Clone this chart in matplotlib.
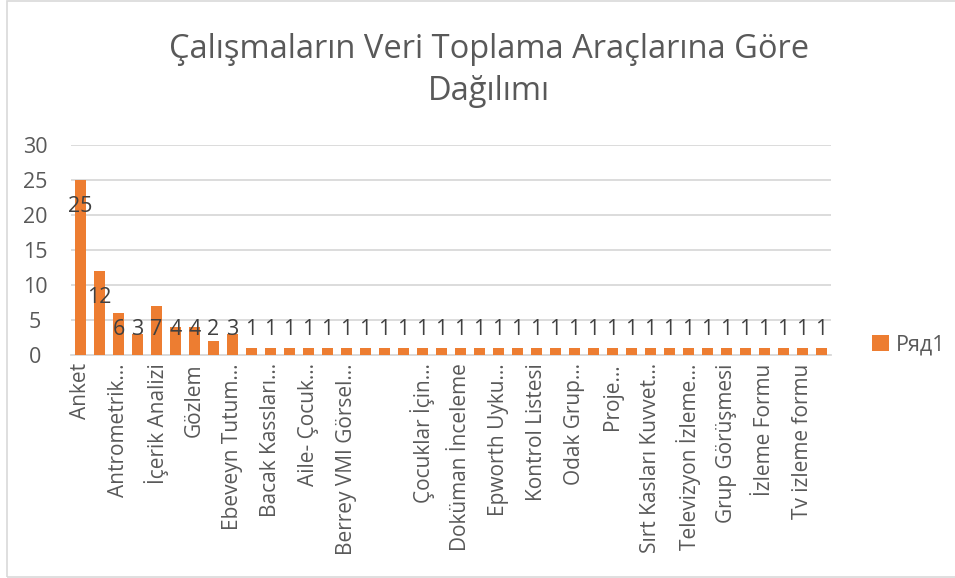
import matplotlib
matplotlib.use("Agg")
import matplotlib.pyplot as plt
from matplotlib.patches import Rectangle

plt.rcParams['font.family'] = ['Open Sans', 'DejaVu Sans']

title = "Çalışmaların Veri Toplama Araçlarına Göre\nDağılımı"
series_name = "Ряд1"

# 40 categories; only every other label is visible in the reference
categories = [
    "Anket", "", "Antrometrik…", "", "İçerik Analizi", "", "Gözlem", "",
    "Ebeveyn Tutum…", "", "Bacak Kassları…", "", "Aile- Çocuk…", "",
    "Berrey VMI Görsel…", "", "", "", "Çocuklar İçin…", "",
    "Doküman İnceleme", "", "Epworth Uyku…", "", "Kontrol Listesi", "",
    "Odak Grup…", "", "Proje…", "", "Sırt Kasları Kuvvet…", "",
    "Televizyon İzleme…", "", "Grup Görüşmesi", "", "İzleme Formu", "",
    "Tv izleme formu", "",
]
values = [25, 12, 6, 3, 7, 4, 4, 2, 3] + [1] * 31

y_ticks = [0, 5, 10, 15, 20, 25, 30]

ORANGE = "#ED7D31"
TEXT = "#595959"
GRID = "#D9D9D9"
FS = 15.5

W, H = 955, 578
fig = plt.figure(figsize=(W / 100, H / 100), dpi=100)
fig.patch.set_facecolor("white")

# outer chart border
fig.add_artist(Rectangle((7 / W, 1 / H), 1.0, 1 - 2 / H, transform=fig.transFigure,
                         fill=False, edgecolor="#D9D9D9", linewidth=1.2))

ax = fig.add_axes([71 / W, 1 - 355 / H, (831 - 71) / W, (355 - 145) / H])
x = list(range(len(values)))
bars = ax.bar(x, values, width=0.55, color=ORANGE, label=series_name, zorder=3)

ax.set_xlim(-0.5, len(values) - 0.5)
ax.set_ylim(0, 30)
ax.set_yticks(y_ticks)
ax.set_yticklabels([str(t) for t in y_ticks], fontsize=FS, color=TEXT)
ax.yaxis.grid(True, color=GRID, linewidth=1.3, zorder=0)
ax.set_axisbelow(True)

ax.set_xticks(x)
ax.set_xticklabels(categories, rotation=90, fontsize=15, color=TEXT,
                   ha="center", va="top")
ax.tick_params(axis="both", length=0)
ax.tick_params(axis="y", pad=26)
for lbl in ax.get_yticklabels():
    lbl.set_horizontalalignment("center")
ax.tick_params(axis="x", pad=6)

for s in ["top", "right", "left"]:
    ax.spines[s].set_visible(False)
ax.spines["bottom"].set_color(GRID)
ax.spines["bottom"].set_linewidth(1.3)

for xi, v in zip(x, values):
    ax.text(xi, max(v - 3.8, 3.7), str(v), ha="center", va="center",
            fontsize=FS, color="#404040", zorder=4)

fig.text(489 / W, 1 - 70 / H, title, ha="center", va="center", fontsize=23.5,
         color=TEXT, linespacing=1.36)

leg = fig.legend(handles=[bars], labels=[series_name], loc="center left",
                 bbox_to_anchor=(853 / W, 1 - 345 / H), frameon=False,
                 fontsize=FS, handlelength=0.75, handleheight=0.75,
                 handletextpad=0.35)
for t in leg.get_texts():
    t.set_color(TEXT)

fig.savefig("out.png", dpi=100)
